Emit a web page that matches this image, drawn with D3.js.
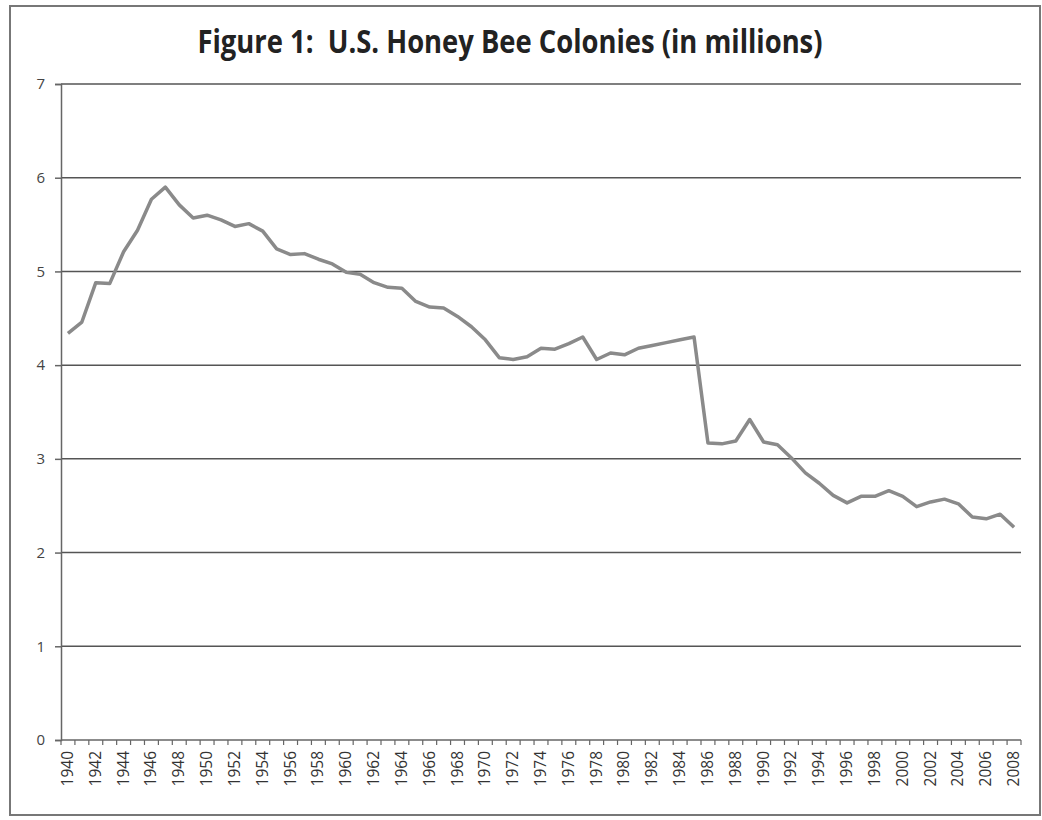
<!DOCTYPE html>
<html>
<head>
<meta charset="utf-8">
<script src="https://cdn.jsdelivr.net/npm/d3@7"></script>
<style>
  body { margin: 0; background: #fff; }
  text { font-family: "Open Sans", "Liberation Sans", sans-serif; }
</style>
</head>
<body>
<svg width="1042" height="820"></svg>
<script>
// years and colonies (millions)
var years = d3.range(1940, 2009);
var colonies = [
  4.34, 4.46, 4.88, 4.87, 5.21, 5.44, 5.77, 5.90, 5.71, 5.57,
  5.60, 5.55, 5.48, 5.51, 5.43, 5.24, 5.18, 5.19, 5.13, 5.08,
  4.99, 4.97, 4.88, 4.83, 4.82, 4.68, 4.62, 4.61, 4.52, 4.41,
  4.27, 4.08, 4.06, 4.09, 4.18, 4.17, 4.23, 4.30, 4.06, 4.13,
  4.11, 4.18, 4.21, 4.24, 4.27, 4.30, 3.17, 3.16, 3.19, 3.42,
  3.18, 3.15, 3.01, 2.85, 2.74, 2.61, 2.53, 2.60, 2.60, 2.66,
  2.60, 2.49, 2.54, 2.57, 2.52, 2.38, 2.36, 2.41, 2.27
];
var yTicks = [0, 1, 2, 3, 4, 5, 6, 7];
var titleText = "Figure 1:  U.S. Honey Bee Colonies (in millions)";

var svg = d3.select("svg");

// outer frame
svg.append("rect")
    .attr("x", 10).attr("y", 6)
    .attr("width", 1030).attr("height", 809)
    .attr("fill", "none")
    .attr("stroke", "#777")
    .attr("stroke-width", 2);

// title
svg.append("text")
    .attr("x", 510).attr("y", 53)
    .attr("text-anchor", "middle")
    .attr("font-size", 32)
    .attr("font-weight", "bold")
    .attr("fill", "#222")
    .style("white-space", "pre")
    .attr("textLength", 625)
    .attr("lengthAdjust", "spacingAndGlyphs")
    .text(titleText);

var mLeft = 61, mRight = 1021, mTop = 84, mBottom = 740;

var x = d3.scaleBand().domain(years).range([mLeft, mRight]);
var y = d3.scaleLinear().domain([0, 7]).range([mBottom, mTop]);

// horizontal gridlines
svg.append("g")
    .selectAll("line")
    .data(yTicks.slice(1))
    .enter().append("line")
    .attr("x1", mLeft).attr("x2", mRight)
    .attr("y1", function(d) { return y(d); })
    .attr("y2", function(d) { return y(d); })
    .attr("stroke", "#555")
    .attr("stroke-width", 1.5);

// y axis
var yAxis = svg.append("g")
    .attr("transform", "translate(" + mLeft + ",0)")
    .call(d3.axisLeft(y).tickValues(yTicks).tickSize(6).tickPadding(10).tickFormat(d3.format("d")));
yAxis.select(".domain").attr("stroke", "#666").attr("stroke-width", 1.5);
yAxis.selectAll(".tick line").attr("stroke", "#666").attr("stroke-width", 1.5);
yAxis.selectAll("text").attr("font-size", 15).attr("fill", "#444")
    .style("font-family", "'Open Sans', sans-serif");

// x axis: category ticks at boundaries
var xg = svg.append("g");
xg.append("line")
    .attr("x1", mLeft).attr("x2", mRight)
    .attr("y1", mBottom).attr("y2", mBottom)
    .attr("stroke", "#666").attr("stroke-width", 1.5);
xg.selectAll(".bound")
    .data(years.concat([2009]))
    .enter().append("line")
    .attr("class", "bound")
    .attr("x1", function(d, i) { return mLeft + i * x.bandwidth(); })
    .attr("x2", function(d, i) { return mLeft + i * x.bandwidth(); })
    .attr("y1", mBottom).attr("y2", mBottom + 5)
    .attr("stroke", "#666").attr("stroke-width", 1.2);
xg.selectAll(".lab")
    .data(years.filter(function(d) { return d % 2 === 0; }))
    .enter().append("text")
    .attr("class", "lab")
    .attr("transform", function(d) {
        return "translate(" + (x(d) + x.bandwidth() / 2 + 5) + "," + (mBottom + 11) + ") rotate(-90)";
    })
    .attr("text-anchor", "end")
    .attr("font-size", 15.5)
    .attr("fill", "#333")
    .text(function(d) { return d; });

// the series line
var line = d3.line()
    .x(function(d, i) { return x(years[i]) + x.bandwidth() / 2; })
    .y(function(d) { return y(d); });

svg.append("path")
    .datum(colonies)
    .attr("d", line)
    .attr("fill", "none")
    .attr("stroke", "#8a8a8a")
    .attr("stroke-width", 3.5)
    .attr("stroke-linejoin", "round");
</script>
</body>
</html>
